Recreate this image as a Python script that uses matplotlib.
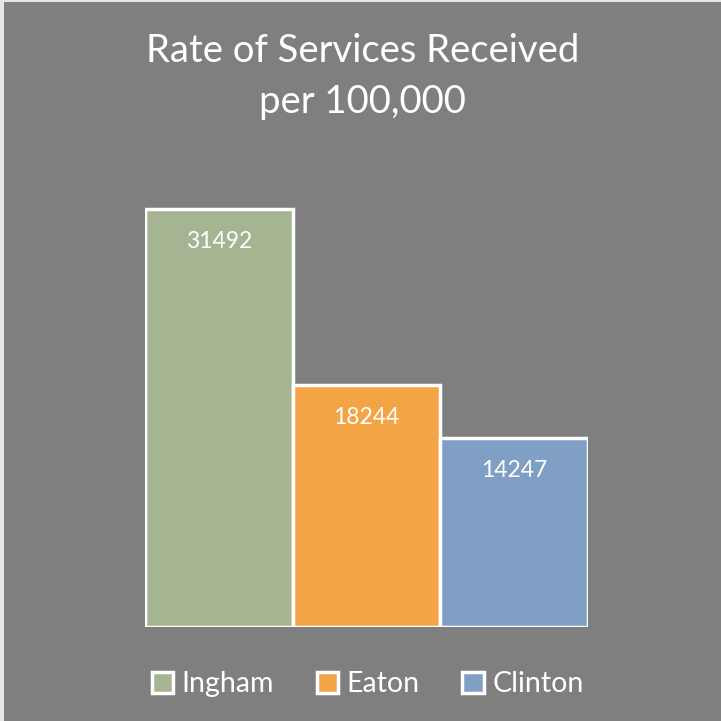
import matplotlib
matplotlib.use("Agg")
import matplotlib.pyplot as plt
from matplotlib.patches import Rectangle

# county rates per 100,000
counties = ["Ingham", "Eaton", "Clinton"]
rates = [31492, 18244, 14247]
colors = ["#a5b592", "#f3a546", "#7f9fc5"]

bg = "#7f7f7f"
plt.rcParams["font.family"] = ["Lato", "DejaVu Sans"]

fig = plt.figure(figsize=(7.21, 7.21), dpi=100, facecolor=bg)

# light frame on the top and left edges
fig.patches.append(Rectangle((0, 0), 4 / 721, 1, transform=fig.transFigure,
                             facecolor="#e6e6e6", edgecolor="none"))
fig.patches.append(Rectangle((0, 1 - 2 / 721), 1, 2 / 721, transform=fig.transFigure,
                             facecolor="#e6e6e6", edgecolor="none"))

# axes: x 145..588 px, y baseline at 627 px
ax = fig.add_axes([145 / 721, (721 - 627) / 721, (588 - 145) / 721, 464.5 / 721])
ax.set_facecolor(bg)
ax.set_xlim(-0.5, 2.5)
ax.set_ylim(0, 35000)

bars = ax.bar(range(len(counties)), rates, width=1.0, color=colors,
              edgecolor="white", linewidth=2.5, label=counties)

for i, v in enumerate(rates):
    ax.annotate(str(v), (i, v), xytext=(0, -23.5), textcoords="offset points",
                ha="center", va="center", color="white", fontsize=16.5)

ax.set_axis_off()

fig.text(0.503, 0.929, "Rate of Services Received", ha="center", va="center",
         color="white", fontsize=27.5)
fig.text(0.503, 0.859, "per 100,000", ha="center", va="center",
         color="white", fontsize=27.5)

leg = fig.legend(bars, counties, loc="center", bbox_to_anchor=(0.51, 0.051),
                 ncol=3, frameon=False, fontsize=20.5, labelcolor="white",
                 handlelength=0.75, handleheight=0.75, handletextpad=0.3,
                 columnspacing=1.5)

fig.savefig("out.png", dpi=100, facecolor=bg)
